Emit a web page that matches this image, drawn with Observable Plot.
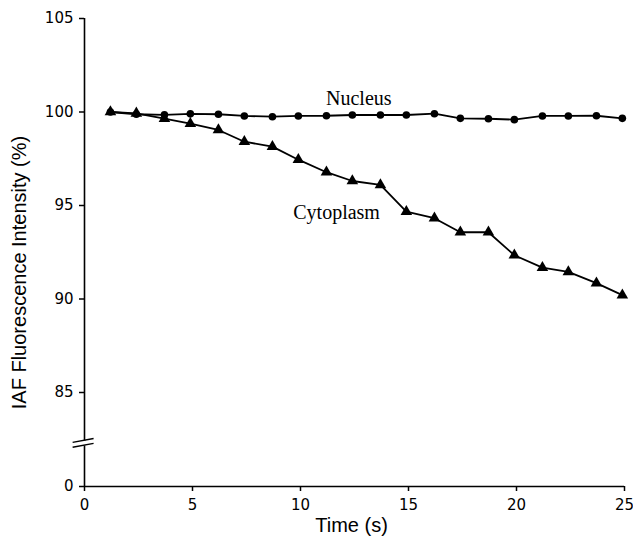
<!DOCTYPE html>
<html>
<head>
<meta charset="utf-8">
<script src="https://cdn.jsdelivr.net/npm/d3@7"></script>
<script src="https://cdn.jsdelivr.net/npm/@observablehq/plot@0.6"></script>
<style>
  html, body { margin: 0; padding: 0; background: white; }
</style>
</head>
<body>
<div id="chart"></div>
<script>
// Data
const times = [1.2, 2.4, 3.7, 4.9, 6.2, 7.4, 8.7, 9.9, 11.2, 12.4, 13.7, 14.9, 16.2, 17.4, 18.7, 19.9, 21.2, 22.4, 23.7, 24.9];
const nucleus = [100, 99.88, 99.85, 99.9, 99.88, 99.79, 99.75, 99.79, 99.80, 99.84, 99.84, 99.84, 99.91, 99.66, 99.64, 99.59, 99.79, 99.79, 99.80, 99.66];
const cytoplasm = [100, 99.93, 99.64, 99.38, 99.04, 98.41, 98.15, 97.45, 96.78, 96.31, 96.10, 94.67, 94.32, 93.57, 93.57, 92.34, 91.68, 91.45, 90.85, 90.21];
const xTicks = [0, 5, 10, 15, 20, 25];
const yTicks = [0, 85, 90, 95, 100, 105];
const seriesLabels = [
  {text: "Nucleus", t: 12.7, v: 100.7},
  {text: "Cytoplasm", t: 11.67, v: 94.6}
];
const axisBreak = [
  {x1: -0.55, x2: 0.42, y1: 39.9, y2: 43.5},
  {x1: -0.55, x2: 0.42, y1: 35.4, y2: 39.0}
];
const axisBreakGap = [{x1: -0.05, x2: 0.05, y1: 37.6, y2: 41.2}];

const nucData = times.map((t, i) => ({t, v: nucleus[i]}));
const cytData = times.map((t, i) => ({t, v: cytoplasm[i]}));

const chart = Plot.plot({
  width: 633,
  height: 546,
  marginLeft: 84,
  marginRight: 9,
  marginTop: 18,
  marginBottom: 60,
  style: {fontFamily: "DejaVu Sans", fontSize: "15px", background: "white", color: "black", overflow: "visible"},
  x: {domain: [0, 25]},
  y: {type: "linear", domain: [0, 85, 105], range: [486, 392, 18]},
  marks: [
    Plot.axisX({ticks: xTicks, tickSize: 5, tickPadding: 8, label: null, fontSize: 15, strokeWidth: 1.5}),
    Plot.axisY({ticks: yTicks, tickSize: 5, tickPadding: 6, label: null, fontSize: 15, strokeWidth: 1.5}),
    Plot.ruleX([0], {stroke: "black", strokeWidth: 1.6}),
    Plot.ruleY([0], {stroke: "black", strokeWidth: 1.6}),
    Plot.link(axisBreakGap, {x1: "x1", x2: "x2", y1: "y1", y2: "y2", stroke: "white", strokeWidth: 4}),
    Plot.link(axisBreak, {x1: "x1", x2: "x2", y1: "y1", y2: "y2", stroke: "black", strokeWidth: 1.5}),
    Plot.line(nucData, {x: "t", y: "v", stroke: "black", strokeWidth: 1.8}),
    Plot.line(cytData, {x: "t", y: "v", stroke: "black", strokeWidth: 1.8}),
    Plot.dot(nucData, {x: "t", y: "v", r: 3.8, fill: "black", stroke: "none", symbol: "circle"}),
    Plot.dot(cytData, {x: "t", y: "v", r: 4.3, fill: "black", stroke: "none", symbol: "triangle"}),
    Plot.text(seriesLabels, {x: "t", y: "v", text: "text", fontFamily: "Liberation Serif", fontSize: 20, fill: "black"}),
    Plot.text(["IAF Fluorescence Intensity (%)"], {frameAnchor: "left", dx: -65, dy: 20, rotate: -90, fontFamily: "Liberation Sans", fontSize: 20, fill: "black", textAnchor: "middle"}),
    Plot.text(["Time (s)"], {frameAnchor: "bottom", dx: -3, dy: 45, fontFamily: "Liberation Sans", fontSize: 20, fill: "black", textAnchor: "middle"})
  ]
});
document.getElementById("chart").appendChild(chart);
</script>
</body>
</html>
